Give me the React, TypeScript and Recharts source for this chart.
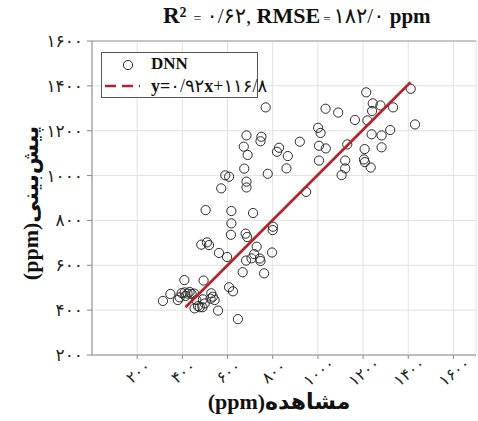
import { ScatterChart, Scatter, XAxis, YAxis, CartesianGrid, ReferenceLine, Label } from "recharts";

// observed (x) vs predicted (y), ppm
const observed = [
  769, 684, 750, 746, 672, 689, 828, 819, 867, 861, 674, 778, 590, 607, 572, 684, 684,
  1034, 1090, 1214, 1411, 1243, 1277, 1240, 1333, 1164, 1219, 1430, 1001, 1012, 1238, 1282, 1320,
  920, 1005, 1035, 1130, 1207, 1282, 1005, 1121, 1121, 1105, 1204, 1208, 1234, 948,
  503, 617, 713, 617, 615, 680, 687, 484, 509, 518, 562, 598, 801, 800, 729, 718, 706, 682,
  743, 746, 797, 667, 762, 409, 494, 607, 624,
  314, 347, 380, 388, 397, 410, 423, 432, 441, 414, 452, 462, 469, 489, 499, 491, 528, 535,
  543, 525, 454, 477, 558, 646,
];
const predicted = [
  1304, 1179, 1173, 1153, 1129, 1092, 1124, 1106, 1087, 1032, 1031, 1008, 1001, 995, 943, 973, 947,
  1298, 1281, 1371, 1387, 1322, 1313, 1288, 1304, 1248, 1246, 1228, 1213, 1190, 1184, 1179, 1203,
  1151, 1133, 1121, 1139, 1118, 1126, 1067, 1067, 1032, 1002, 1072, 1060, 1036, 927,
  846, 842, 833, 787, 736, 741, 726, 692, 702, 690, 655, 637, 772, 757, 683, 650, 631, 621,
  630, 619, 657, 569, 564, 534, 532, 502, 484,
  441, 472, 445, 457, 476, 479, 474, 481, 472, 463, 474, 445, 418, 413, 430, 448, 475, 460,
  445, 451, 408, 413, 398, 360,
];

// fitted line end points as drawn
const fitObserved = [414, 1410];
const fitPredicted = [413, 1416];

const xTicks = [200, 400, 600, 800, 1000, 1200, 1400, 1600];
const yTicks = [200, 400, 600, 800, 1000, 1200, 1400, 1600];

const points = observed.map((x, i) => ({ x, y: predicted[i] }));
const fitLine = fitObserved.map((x, i) => ({ x, y: fitPredicted[i] }));

const SERIF = "'Liberation Serif', 'DejaVu Sans', serif";
const fa = (v: number | string) => String(v).replace(/[0-9]/g, (d) => "۰۱۲۳۴۵۶۷۸۹"[+d]);

function XTick(props: any) {
  const { x, y, payload } = props;
  return (
    <g transform={`translate(${x + 1},${y + 11})`}>
      <text
        textAnchor="middle"
        dominantBaseline="central"
        transform="rotate(-38)"
        fontFamily={SERIF}
        fontSize={16}
        fill="#222"
      >
        {fa(payload.value)}
      </text>
    </g>
  );
}

function Ring(props: any) {
  const { cx, cy } = props;
  return <circle cx={cx} cy={cy} r={4.6} fill="none" stroke="#2a2a2a" strokeWidth={1} />;
}

export default function App() {
  return (
    <div style={{ position: "absolute", left: 0, top: 0, width: 478, height: 421, background: "#fff" }}>
      <ScatterChart width={478} height={421} margin={{ top: 41, right: 2, bottom: 0, left: 0 }}>
        <CartesianGrid stroke="#e2e2e2" strokeWidth={1} />
        <XAxis
          type="number"
          dataKey="x"
          domain={[0, 1700]}
          ticks={xTicks}
          height={66}
          tickSize={4}
          stroke="#8a8a8a"
          tick={<XTick />}
          interval={0}
        >
          <Label
            content={() => (
              <text x={279} y={409} textAnchor="middle" fontFamily={SERIF} fontWeight="bold" fontSize={22} fill="#111">
                (ppm)مشاهده
              </text>
            )}
          />
        </XAxis>
        <YAxis
          type="number"
          dataKey="y"
          domain={[200, 1600]}
          ticks={yTicks}
          width={92}
          tickSize={5}
          tickMargin={4}
          stroke="#8a8a8a"
          tick={{ fontFamily: SERIF, fontSize: 17, fill: "#222" }}
          tickFormatter={fa}
          interval={0}
        >
          <Label
            content={() => (
              <text
                x={30}
                y={203}
                textAnchor="middle"
                dominantBaseline="central"
                transform="rotate(-90,30,203)"
                fontFamily={SERIF}
                fontWeight="bold"
                fontSize={22}
                fill="#111"
              >
                (ppm)پیش‌بینی
              </text>
            )}
          />
        </YAxis>
        <ReferenceLine y={1600} stroke="#9a9a9a" />
        <Scatter data={points} shape={<Ring />} isAnimationActive={false} />
        <Scatter
          data={fitLine}
          line={{ stroke: "#b3232b", strokeWidth: 2.6 }}
          shape={() => <g />}
          isAnimationActive={false}
        />
      </ScatterChart>

      <div
        style={{
          position: "absolute",
          left: 163,
          top: 3,
          fontFamily: SERIF,
          fontSize: 21,
          color: "#111",
          whiteSpace: "nowrap",
        }}
      >
        <b style={{ fontSize: 23 }}>R²</b>
        <span style={{ fontSize: 14, margin: "0 5px 0 7px" }}>=</span>
        <span>۰/۶۲, </span>
        <b style={{ fontSize: 22 }}>RMSE</b>
        <span style={{ fontSize: 13, margin: "0 3px 0 3px" }}>=</span>
        <span>۱۸۲/۰ </span>
        <b style={{ fontSize: 21 }}>ppm</b>
      </div>

      <div
        style={{
          position: "absolute",
          left: 101,
          top: 52,
          width: 155,
          height: 44,
          border: "1px solid #555",
          background: "#fff",
          fontFamily: SERIF,
          fontSize: 17,
          color: "#111",
        }}
      >
        <svg width={40} height={44} style={{ position: "absolute", left: 0, top: 0 }}>
          <circle cx={26} cy={12} r={4.6} fill="none" stroke="#2a2a2a" strokeWidth={1} />
          <line x1={3} y1={33} x2={38} y2={33} stroke="#b3232b" strokeWidth={2.6} strokeDasharray="11 6" />
        </svg>
        <div style={{ position: "absolute", left: 49, top: 1, fontWeight: "bold" }}>DNN</div>
        <div style={{ position: "absolute", left: 49, top: 22, whiteSpace: "nowrap", fontSize: 18 }}>
          <b>y=</b>۰/۹۲<b>x</b>+۱۱۶/۸
        </div>
      </div>
    </div>
  );
}
